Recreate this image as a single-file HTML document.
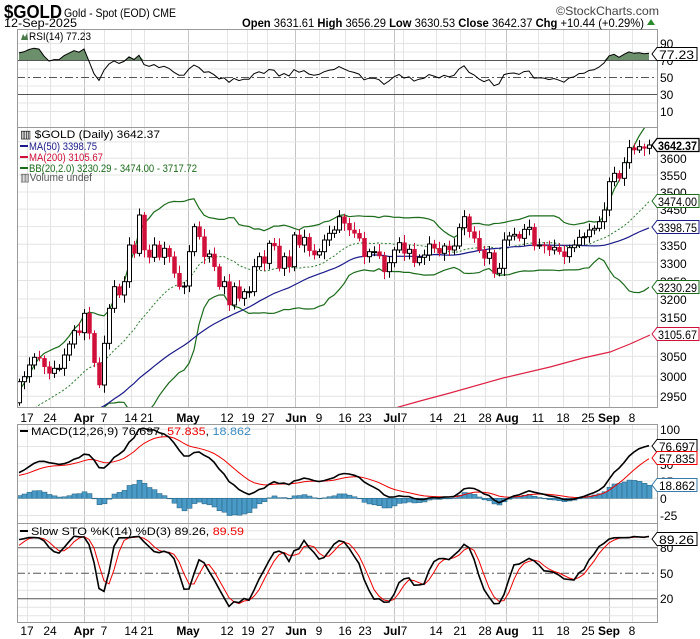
<!DOCTYPE html>
<html><head><meta charset="utf-8"><style>
html,body{margin:0;padding:0;background:#fff}
svg{display:block;font-family:"Liberation Sans",sans-serif}
</style></head><body>
<svg id="c" width="700" height="639" viewBox="0 0 700 639" xmlns="http://www.w3.org/2000/svg">
<defs>
<clipPath id="cr"><rect x="17" y="29" width="640" height="99"/></clipPath>
<clipPath id="cp"><rect x="17" y="128" width="640" height="279"/></clipPath>
<clipPath id="cm"><rect x="17" y="424" width="640" height="99"/></clipPath>
<clipPath id="cs"><rect x="17" y="523" width="640" height="99"/></clipPath>
</defs>
<g id="grid"></g>
<g id="plots"></g>
<g fill="none" stroke="#9a9a9a" stroke-width="1">
<rect x="17.5" y="29.5" width="640" height="98"/>
<rect x="17.5" y="127.5" width="640" height="280"/>
<rect x="17.5" y="424.5" width="640" height="99"/>
<rect x="17.5" y="523.5" width="640" height="99"/>
</g>
<text x="4" y="18" font-size="18" font-weight="bold" textLength="58" lengthAdjust="spacingAndGlyphs">$GOLD</text>
<text x="64" y="17" font-size="12" textLength="112" lengthAdjust="spacingAndGlyphs">Gold - Spot (EOD) CME</text>
<text x="556" y="15" font-size="12" fill="#444" textLength="103" lengthAdjust="spacingAndGlyphs">©StockCharts.com</text>
<text x="4" y="27" font-size="12" textLength="73" lengthAdjust="spacingAndGlyphs">12-Sep-2025</text>
<text x="242" y="27" font-size="12" textLength="402" lengthAdjust="spacingAndGlyphs"><tspan font-weight="bold">Open</tspan> 3631.61 <tspan font-weight="bold">High</tspan> 3656.29 <tspan font-weight="bold">Low</tspan> 3630.53 <tspan font-weight="bold">Close</tspan> 3642.37 <tspan font-weight="bold">Chg</tspan> +10.44 (+0.29%)</text>
<path d="M647 25 L651 19 L655 25 Z" fill="#2a8a2a"/>
<path d="M21 40 L23 34 L25 37 L27 33 L28 40 Z" fill="#4a7a4a"/>
<text x="29" y="40" font-size="11" textLength="62" lengthAdjust="spacingAndGlyphs">RSI(14) 77.23</text>
<text x="20" y="138" font-size="11" textLength="140" lengthAdjust="spacingAndGlyphs">▥ $GOLD (Daily) 3642.37</text>
<rect x="20" y="145" width="8" height="2" fill="#1a1a8a"/>
<text x="29" y="150" font-size="11" fill="#1a1a8a" textLength="68" lengthAdjust="spacingAndGlyphs">MA(50) 3398.75</text>
<rect x="20" y="156" width="8" height="2" fill="#d0103a"/>
<text x="29" y="161" font-size="11" fill="#d0103a" textLength="74" lengthAdjust="spacingAndGlyphs">MA(200) 3105.67</text>
<rect x="20" y="167" width="8" height="2" fill="#1a6b1a"/>
<text x="29" y="172" font-size="11" fill="#1a6b1a" textLength="168" lengthAdjust="spacingAndGlyphs">BB(20,2.0) 3230.29 - 3474.00 - 3717.72</text>
<text x="20" y="181" font-size="11" fill="#555" textLength="72" lengthAdjust="spacingAndGlyphs">▥Volume undef</text>
<rect x="20" y="430" width="8" height="2" fill="#000"/>
<text x="31" y="435" font-size="11" textLength="220" lengthAdjust="spacingAndGlyphs">MACD(12,26,9) 76.697, <tspan fill="#e00">57.835</tspan>, <tspan fill="#3a8ac0">18.862</tspan></text>
<rect x="20" y="530" width="8" height="2" fill="#000"/>
<text x="31" y="535" font-size="11" textLength="213" lengthAdjust="spacingAndGlyphs">Slow STO %K(14) %D(3) 89.26, <tspan fill="#e00">89.59</tspan></text>
<g font-size="12" fill="#000">
<text x="660" y="48">90</text><text x="660" y="65">70</text><text x="660" y="82">50</text><text x="660" y="99">30</text><text x="660" y="116">10</text>
<text x="660" y="163">3600</text><text x="660" y="180">3550</text><text x="660" y="197">3500</text><text x="660" y="214">3450</text>
<text x="660" y="250">3350</text><text x="660" y="268">3300</text><text x="660" y="286">3250</text><text x="660" y="304">3200</text>
<text x="660" y="322">3150</text><text x="660" y="361">3050</text><text x="660" y="381">3000</text><text x="660" y="401">2950</text>
<text x="660" y="434">100</text><text x="660" y="469">50</text><text x="660" y="486">25</text><text x="660" y="503">0</text><text x="660" y="520">-25</text>
<text x="660" y="552">80</text><text x="660" y="578">50</text><text x="660" y="603">20</text>
</g>
<g font-size="12">
<path d="M652 54 L657 47.5 L697 47.5 L697 60.5 L657 60.5 Z" fill="#fff" stroke="#000"/><text x="659" y="59" textLength="35" lengthAdjust="spacingAndGlyphs">77.23</text>
<path d="M652 145 L657 138.5 L699 138.5 L699 151.5 L657 151.5 Z" fill="#fff" stroke="#000" stroke-width="1.3"/><text x="658" y="150" font-weight="bold" textLength="39" lengthAdjust="spacingAndGlyphs">3642.37</text>
<path d="M652 201 L657 194.5 L699 194.5 L699 207.5 L657 207.5 Z" fill="#fff" stroke="#1a6b1a"/><text x="658" y="206" textLength="39" lengthAdjust="spacingAndGlyphs">3474.00</text>
<path d="M652 227 L657 220.5 L699 220.5 L699 233.5 L657 233.5 Z" fill="#fff" stroke="#1a1a8a"/><text x="658" y="232" textLength="39" lengthAdjust="spacingAndGlyphs">3398.75</text>
<path d="M652 287 L657 280.5 L699 280.5 L699 293.5 L657 293.5 Z" fill="#fff" stroke="#1a6b1a"/><text x="658" y="292" textLength="39" lengthAdjust="spacingAndGlyphs">3230.29</text>
<path d="M652 334 L657 327.5 L699 327.5 L699 340.5 L657 340.5 Z" fill="#fff" stroke="#d0103a"/><text x="658" y="339" textLength="39" lengthAdjust="spacingAndGlyphs">3105.67</text>
<path d="M652 446 L657 439.5 L697 439.5 L697 452.5 L657 452.5 Z" fill="#fff" stroke="#000"/><text x="659" y="451" textLength="36" lengthAdjust="spacingAndGlyphs">76.697</text>
<path d="M652 458 L657 451.5 L697 451.5 L697 464.5 L657 464.5 Z" fill="#fff" stroke="#e00"/><text x="659" y="463" textLength="36" lengthAdjust="spacingAndGlyphs">57.835</text>
<path d="M652 485 L657 478.5 L697 478.5 L697 491.5 L657 491.5 Z" fill="#fff" stroke="#3a7aa8"/><text x="659" y="490" textLength="36" lengthAdjust="spacingAndGlyphs">18.862</text>
<path d="M652 539 L657 532.5 L697 532.5 L697 545.5 L657 545.5 Z" fill="#fff" stroke="#000"/><text x="659" y="544" textLength="35" lengthAdjust="spacingAndGlyphs">89.26</text>
</g>
<g font-size="12" text-anchor="middle">
<text x="27" y="422">17</text><text x="50" y="422">24</text><text x="84" y="422" font-weight="bold">Apr</text><text x="104" y="422">7</text><text x="131" y="422">14</text><text x="147" y="422">21</text><text x="188" y="422" font-weight="bold">May</text><text x="227" y="422">12</text><text x="248" y="422">19</text><text x="268" y="422">27</text><text x="296" y="422" font-weight="bold">Jun</text><text x="319" y="422">9</text><text x="345" y="422">16</text><text x="365" y="422">23</text><text x="392" y="422" font-weight="bold">Jul</text><text x="404" y="422">7</text><text x="436" y="422">14</text><text x="460" y="422">21</text><text x="485" y="422">28</text><text x="507" y="422" font-weight="bold">Aug</text><text x="538" y="422">11</text><text x="563" y="422">18</text><text x="588" y="422">25</text><text x="609" y="422" font-weight="bold">Sep</text><text x="632" y="422">8</text>
</g>
<g font-size="12" text-anchor="middle">
<text x="27" y="635">17</text><text x="50" y="635">24</text><text x="84" y="635" font-weight="bold">Apr</text><text x="104" y="635">7</text><text x="131" y="635">14</text><text x="147" y="635">21</text><text x="188" y="635" font-weight="bold">May</text><text x="227" y="635">12</text><text x="248" y="635">19</text><text x="268" y="635">27</text><text x="296" y="635" font-weight="bold">Jun</text><text x="319" y="635">9</text><text x="345" y="635">16</text><text x="365" y="635">23</text><text x="392" y="635" font-weight="bold">Jul</text><text x="404" y="635">7</text><text x="436" y="635">14</text><text x="460" y="635">21</text><text x="485" y="635">28</text><text x="507" y="635" font-weight="bold">Aug</text><text x="538" y="635">11</text><text x="563" y="635">18</text><text x="588" y="635">25</text><text x="609" y="635" font-weight="bold">Sep</text><text x="632" y="635">8</text>
</g>
</svg>
<script>
(function(){
var NS="http://www.w3.org/2000/svg";
function el(p,t,a){var e=document.createElementNS(NS,t);for(var k in a)e.setAttribute(k,a[k]);p.appendChild(e);return e;}
var G=document.getElementById('grid'),P=document.getElementById('plots');
var vx=[27,50,84,104,131,144,188,227,247,267,295,319,345,364,394,403,436,460,485,506,538,563,588,609,632];
var mon=[84,188,295,394,506,609];
var panels=[[29,128],[128,407],[424,523],[523,622]];
vx.forEach(function(x){var m=mon.indexOf(x)>=0;panels.forEach(function(p){el(G,'line',{x1:x+.5,x2:x+.5,y1:p[0],y2:p[1],stroke:m?'#c4c4c4':'#e4e4e4'});});});
function hl(y,c,d,w){var a={x1:17,x2:657,y1:y,y2:y,stroke:c,'stroke-width':w||1};if(d)a['stroke-dasharray']=d;el(G,'line',a);}
var RY=function(v){return 77.5-(v-50)*0.85;};
[10,20,40,60,80,90].forEach(function(v){hl(RY(v),'#e4e4e4');});
function PY(p){return 158.3+1195*Math.log(3600/p);}
for(var p=2950;p<=3650;p+=50)hl(PY(p),'#e4e4e4');
var MY=function(v){return 498.3-v*0.69;};
[100,75,50,25,0,-25].forEach(function(v){hl(MY(v),'#e4e4e4');});
var SY=function(v){return 573.3-(v-50)*0.85;};
[0,10,30,40,60,70,90,100].forEach(function(v){hl(SY(v),'#e4e4e4');});
var Y=[785,770,735,712,715,740,760,745,745,705,672,632,638,580,640,728,795,670,565,500,525,485,375,400,285,390,412,375,412,385,410,460,500,498,395,320,350,410,402,440,500,485,555,500,535,515,515,440,410,430,370,378,445,410,440,345,375,352,392,405,395,360,340,330,290,310,330,
340,355,410,395,395,408,455,428,390,368,400,388,428,412,405,372,385,400,378,390,378,323,290,335,355,390,415,398,460,445,360,348,343,355,328,322,378,375,378,390,382,395,410,383,375,352,350,330,325,305,270,185,160,175,128,83,90,80,85,75];
var C=[],i;
var pre=60;
for(i=0;i<pre;i++)C.push(2650+(2930-2650)*i/(pre-1)+15*Math.sin(i*1.3));
Y.forEach(function(v){C.push(3600*Math.exp(-((120+v/3)-158.3)/1195));});
var N=C.length,O=[],H=[],L=[];
for(i=0;i<N;i++){var o=i?C[i-1]:C[0];if(i==pre)o=2934;O.push(o);var w=C[i]*0.0025*(1+((i*37)%5)/2.5);var w2=C[i]*0.0025*(1+((i*23)%4)/2);H.push(Math.max(o,C[i])+w);L.push(Math.min(o,C[i])-w2);}
function X(k){return 19+5*(k-pre);}
function sma(a,n,j){var s=0;for(var t=j-n+1;t<=j;t++)s+=a[t];return s/n;}
function poly(pts,a,clip){a.points=pts.map(function(q){return q[0].toFixed(1)+','+q[1].toFixed(1);}).join(' ');a.fill='none';a['clip-path']='url(#'+clip+')';return el(P,'polyline',a);}
var ag=0,al=0,rsi=[];
for(i=1;i<N;i++){var d=C[i]-C[i-1],g=Math.max(d,0),l=Math.max(-d,0);if(i<=14){ag+=g/14;al+=l/14;}else{ag=(ag*13+g)/14;al=(al*13+l)/14;}rsi[i]=100-100/(1+ag/(al||1e-9));}
var rp=[];for(i=pre;i<N;i++)rp.push([X(i),RY(rsi[i])]);
var y70=RY(70),fp='';
rp.forEach(function(q,j){fp+=(j?'L':'M')+q[0]+' '+Math.min(q[1],y70);});
fp+='L'+rp[rp.length-1][0]+' '+y70+'L'+rp[0][0]+' '+y70+'Z';
el(P,'path',{d:fp,fill:'#6a8f6a','clip-path':'url(#cr)'});
el(P,'line',{x1:17,x2:657,y1:y70,y2:y70,stroke:'#555'});
el(P,'line',{x1:17,x2:657,y1:RY(30),y2:RY(30),stroke:'#555'});
el(P,'line',{x1:17,x2:657,y1:RY(50),y2:RY(50),stroke:'#555','stroke-dasharray':'8 3 2 3'});
poly(rp,{stroke:'#000','stroke-width':1},'cr');
var up=[],mid=[],lo=[],m50=[];
for(i=pre;i<N;i++){var m=sma(C,20,i),s=0;for(var t=i-19;t<=i;t++)s+=(C[t]-m)*(C[t]-m);s=Math.sqrt(s/20);
up.push([X(i),PY(m+2*s)]);mid.push([X(i),PY(m)]);lo.push([X(i),PY(m-2*s)]);
if(i>=pre+13)m50.push([X(i),PY(sma(C,50,i))]);}
poly(mid,{stroke:'#2a7a2a','stroke-dasharray':'2 2'},'cp');
poly(up,{stroke:'#1a6b1a','stroke-width':1.2},'cp');
poly(lo,{stroke:'#1a6b1a','stroke-width':1.2},'cp');
poly(m50,{stroke:'#1a1a8a','stroke-width':1.2},'cp');
poly([[388,410],[420,401],[450,393],[503,378],[550,367],[583,358],[610,352],[630,344],[650,335]],{stroke:'#dd2244','stroke-width':1.2},'cp');
for(i=pre;i<N;i++){var x=X(i),upc=C[i]>=O[i],col=upc?'#000':'#d0103a';
el(P,'line',{x1:x+.5,x2:x+.5,y1:PY(H[i]),y2:PY(L[i]),stroke:col,'clip-path':'url(#cp)'});
var yt=PY(Math.max(O[i],C[i])),yb=PY(Math.min(O[i],C[i]));if(yb-yt<1)yb=yt+1;
el(P,'rect',{x:x-1.5,y:yt,width:4,height:yb-yt,fill:upc?'#fff':'#d0103a',stroke:upc?'#000':'#d0103a','stroke-width':upc?1:0.5,'clip-path':'url(#cp)'});}
var e12=C[0],e26=C[0],mac=[],sig=[],sg=0;
for(i=0;i<N;i++){e12=e12+(C[i]-e12)*2/13;e26=e26+(C[i]-e26)*2/27;mac[i]=e12-e26;sg=i?sg+(mac[i]-sg)*0.2:mac[i];sig[i]=sg;}
var mp=[],sp=[];
for(i=pre;i<N;i++){var h=mac[i]-sig[i],x=X(i);var y0=MY(0),y1=MY(h);
el(P,'rect',{x:x-2,y:Math.min(y0,y1),width:5,height:Math.max(Math.abs(y1-y0),0.5),fill:'#4a9ac8',stroke:'#2a6a8a','stroke-width':0.6,'clip-path':'url(#cm)'});
mp.push([x,MY(mac[i])]);sp.push([x,MY(sig[i])]);}
poly(sp,{stroke:'#e00','stroke-width':1},'cm');
poly(mp,{stroke:'#000','stroke-width':1.6},'cm');
var fk=[],sk=[],sd=[];
for(i=13;i<N;i++){var hh=-1e9,ll=1e9;for(var t=i-13;t<=i;t++){hh=Math.max(hh,H[t]);ll=Math.min(ll,L[t]);}fk[i]=100*(C[i]-ll)/(hh-ll);}
for(i=15;i<N;i++)sk[i]=(fk[i]+fk[i-1]+fk[i-2])/3;
for(i=17;i<N;i++)sd[i]=(sk[i]+sk[i-1]+sk[i-2])/3;
el(P,'line',{x1:17,x2:657,y1:SY(80),y2:SY(80),stroke:'#555'});
el(P,'line',{x1:17,x2:657,y1:SY(20),y2:SY(20),stroke:'#555'});
el(P,'line',{x1:17,x2:657,y1:SY(50),y2:SY(50),stroke:'#555','stroke-dasharray':'8 3 2 3'});
var kp=[],dp=[];for(i=pre;i<N;i++){kp.push([X(i),SY(sk[i])]);dp.push([X(i),SY(sd[i])]);}
poly(dp,{stroke:'#e00','stroke-width':1},'cs');
poly(kp,{stroke:'#000','stroke-width':1.6},'cs');
})();
</script>
</body></html>
